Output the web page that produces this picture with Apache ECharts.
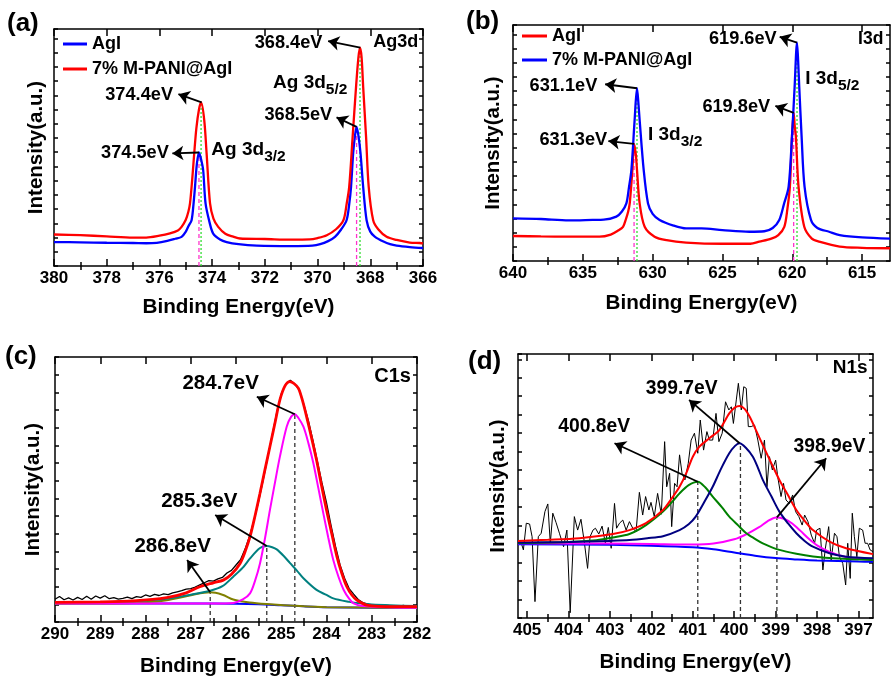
<!DOCTYPE html>
<html><head><meta charset="utf-8">
<script src="https://cdn.jsdelivr.net/npm/echarts@6/dist/echarts.min.js"></script>
<style>html,body{margin:0;padding:0;background:#fff}#c{width:892px;height:677px}</style>
</head><body><div id="c"></div>
<script>
// ---------------- DATA ----------------
// (a) Ag3d
const aAgI_x = [380,379,378,377,376.5,376.1,375.7,375.4,375.16,375.0,374.9,374.78,374.7,374.65,374.58,374.5,374.42,374.34,374.25,374.1,373.96,373.7,373.45,373.0,372.3,371,370.2,369.9,369.6,369.34,369.1,368.9,368.8,368.73,368.65,368.58,368.52,368.45,368.37,368.27,368.14,368.0,367.82,367.5,367.25,367,366.5,366];
const aAgI_y = [10.1,10.0,9.8,9.7,9.6,9.8,10.6,11.5,12.3,14.5,16.8,19.3,27,33.4,43,47.9,45,40.4,26.4,18.5,13.7,11.2,10.1,9.2,8.6,8.4,8.6,9.2,10.5,12.3,15.5,19.3,26,33.4,47.5,55,58.7,55,47.5,33.4,19.3,14.5,12.3,10.3,9.2,8.6,8.0,7.6];
const aM_x = [380,379,378,377,376.5,376,375.6,375.3,375.16,375.0,374.9,374.84,374.76,374.68,374.6,374.5,374.42,374.3,374.21,374.08,373.95,373.77,373.5,373.2,372.94,372,371,370.3,370.0,369.65,369.3,369.02,368.9,368.8,368.67,368.54,368.45,368.39,368.33,368.27,368.16,368.06,367.89,367.7,367.38,367,366.5,366.12,366];
const aM_y = [13.3,13.0,12.5,12.0,12.0,12.8,13.8,15.0,16.5,19.5,23,26.4,36,47.5,58,66,69,61.6,47.5,26.4,20,16.5,13.6,12.4,11.6,11.4,11.1,11.2,11.8,13,15.5,19.3,26,33.4,54.5,75.6,88,92.1,88,75.6,54.5,33.4,19.3,15.5,12.3,11,9.9,9.7,9.5];
const aPeakAgI = [[374.5,47.9],[368.52,58.7]];
const aPeakM = [[374.42,69],[368.39,92.1]];
const aTicks = [366,368,370,372,374,376,378,380];
const aMinor = [367,369,371,373,375,377,379];

// (b) I3d
const bAgI_x = [640,638,636,634.5,633.8,633,632.5,632.12,631.9,631.75,631.64,631.45,631.33,631.2,631.12,630.93,630.57,629.86,629,627.6,625,623,622.36,621.5,621,620.57,620.35,620.17,620.02,619.9,619.82,619.74,619.55,619.14,618.6,618.07,616.6,615,613];
const bAgI_y = [10.6,10.4,10.3,10.3,10.3,11.2,12.8,14.5,18,21,24.4,38.6,49.6,45,38.6,24.4,14.5,10.3,8.8,7.8,7.3,7.3,8.2,9.5,11,14.5,22,31.5,52.7,62.8,57,52.7,31.5,14.5,9.5,8.2,6.1,5.6,5.4];
const bM_x = [640,638,636,634.3,633.5,632.6,632.2,631.88,631.7,631.52,631.29,631.12,631.02,630.93,630.64,630.33,630.0,629.5,628.5,627.6,626.5,625,623.07,622,621.4,620.93,620.6,620.26,620.02,619.83,619.66,619.58,619.5,619.33,619.12,618.66,618.2,617.36,616.6,615,613];
const bM_y = [18.1,17.8,17.2,17.4,17.5,18.8,21,24.4,31,38.6,59.7,73.2,67,59.7,38.6,24.4,20,17.4,15,13.8,13.8,13.1,12.4,12.6,14,17.4,24,31.5,52.7,73.9,92.5,85,73.9,52.7,31.5,17.4,14,12.4,11,10,9.5];
const bPeakAgI = [[631.33,49.6],[619.9,62.8]];
const bPeakM = [[631.12,73.2],[619.66,92.5]];
const bTicks = [615,620,625,630,635,640];
const bMinor = [617.5,622.5,627.5,632.5,637.5];

// (c) C1s
const cRaw_x = [290.0,289.9,289.8,289.7,289.6,289.5,289.4,289.3,289.2,289.1,289.0,288.9,288.8,288.7,288.6,288.5,288.4,288.3,288.2,288.1,288.0,287.9,287.8,287.7,287.6,287.5,287.4,287.3,287.2,287.1,287.0,286.9,286.8,286.7,286.6,286.5,286.4,286.3,286.2,286.1,286.0,285.9,285.8,285.7,285.6,285.5,285.4,285.3,285.2,285.1,285.0,284.9,284.8,284.7,284.6,284.5,284.4,284.3,284.2,284.1,284.0,283.9,283.8,283.7,283.6,283.5,283.4,283.3,283.2,283.1,283.0,282.9,282.8,282.7,282.6,282.5,282.4,282.3,282.2,282.1,282.0];
const cRaw_y = [8.6,9.6,8.4,9.1,8.3,9.3,8.5,9.7,8.6,9.8,9.0,9.9,8.8,9.2,8.6,8.9,9.4,8.8,9.6,9.3,10.2,9.7,10.4,10.0,10.6,10.3,11.0,11.4,11.8,12.4,12.6,13.2,14.0,14.8,15.6,15.4,16.3,16.8,18.5,19.5,21.5,23.5,27.5,32.5,38.5,45.5,53.5,62,70.5,79,86,89.8,91.2,89.8,87.5,82,76,68.5,60.5,52.5,45,36.5,28.5,21.5,16.5,12.6,10.5,8.5,7.3,6.8,6.3,6.1,6.0,6.4,6.2,5.7,6.0,6.3,5.8,6.1,5.9];
const cBg_x = [290,287,286,285.5,285,284.5,284,283,282];
const cBg_y = [7.0,7.0,6.9,6.7,6.3,5.9,5.6,5.4,5.3];
const cP1_x = [290,286.5,286.06,285.85,285.69,285.58,285.47,285.36,285.25,285.14,285.03,284.88,284.78,284.70,284.62,284.51,284.40,284.29,284.18,284.07,283.96,283.85,283.73,283.62,283.5,283.4,283.2,282.5,282];
const cP1_y = [7.0,7.0,7.2,8.5,10.8,15.5,22.1,31.5,42.3,52.5,62.4,73.7,77.5,78.4,77,73.7,67.5,59.9,50.5,41,31.8,23.4,16.8,12.1,8.8,7.0,6.0,5.5,5.4];
const cP2_x = [290,289,288.3,287.53,287,286.57,286.3,286.06,285.85,285.69,285.47,285.32,285.2,285.1,284.95,284.81,284.65,284.51,284.22,284.0,283.85,283.5,283.33,283,282];
const cP2_y = [7.2,7.4,7.8,8.8,10.3,11.8,13.5,17.1,20.5,24,27.9,28.7,28.2,27.4,25,22.3,19.3,16.5,12.1,10.2,8.9,7.6,7.2,6.6,6.0];
const cP3_x = [290,289,288.27,287.8,287.53,287.2,286.9,286.57,286.3,286.06,285.7,285.32,284.59,284,282];
const cP3_y = [6.9,7.0,7.2,7.7,8.2,9.3,10.5,11.2,10.3,8.5,7.4,6.8,6.0,5.6,5.3];
const cEnv_x = [290,289,288.27,287.53,287.1,286.8,286.5,286.28,286.1,285.91,285.8,285.69,285.58,285.47,285.36,285.25,285.14,285.03,284.92,284.81,284.72,284.62,284.53,284.44,284.33,284.22,284.11,284.0,283.88,283.77,283.66,283.55,283.44,283.33,283.11,282.5,282];
const cEnv_y = [7.4,7.6,8.0,9.2,11.0,13.3,14.8,15.8,18,22.1,26.5,32.2,40,48.6,57.5,66.2,75,83.8,89,90.7,90,88.2,83.5,77.5,69.5,61.1,51.5,42.3,33,24.7,18.3,13.3,10.2,8.3,6.4,5.8,5.8];
const cPeaks = [[286.57,11.2],[285.32,28.7],[284.70,78.4]];
const cTicks = [282,283,284,285,286,287,288,289,290];
const cMinor = [282.5,283.5,284.5,285.5,286.5,287.5,288.5,289.5];

// (d) N1s
const dRaw_x = [405.14,405.09,405.02,404.94,404.88,404.81,404.73,404.66,404.57,404.50,404.44,404.38,404.30,404.22,404.12,404.04,403.96,403.86,403.78,403.70,403.62,403.54,403.48,403.41,403.35,403.27,403.19,403.11,403.04,402.97,402.89,402.84,402.77,402.69,402.61,402.53,402.45,402.37,402.29,402.21,402.14,402.06,402.01,401.93,401.85,401.76,401.68,401.63,401.56,401.51,401.44,401.38,401.32,401.26,401.19,401.11,401.04,400.96,400.88,400.82,400.74,400.66,400.60,400.52,400.44,400.37,400.29,400.21,400.13,400.07,400.02,399.95,399.90,399.83,399.77,399.71,399.66,399.59,399.51,399.43,399.35,399.27,399.21,399.15,399.08,399.00,398.95,398.87,398.81,398.75,398.67,398.59,398.52,398.44,398.36,398.30,398.22,398.14,398.06,398.01,397.93,397.86,397.80,397.72,397.66,397.58,397.52,397.46,397.38,397.31,397.26,397.20,397.15,397.10,397.04,396.98,396.90,396.84,396.78,396.72,396.65];
const dRaw_y = [28.3,25.8,35.9,35.6,30.8,6.2,30.8,32.1,40.3,43.2,28.3,39.7,36.1,32.1,27.0,33.3,2.0,38.4,33.3,37.4,28.9,18.8,30.8,33.3,34.0,31.8,34.8,28.3,34.3,26.4,43.4,34.0,35.9,37.1,33.3,36.5,34.0,32.7,47.6,39.0,46.0,40.9,43.8,38.4,47.2,39.3,66.8,49.7,54.8,34.6,51.0,49.7,61.8,54.8,52.3,58.6,67.4,70.0,62.4,75.0,63.6,70.6,67.4,67.4,77.5,66.8,70.0,81.9,78.8,80.0,73.7,82.6,88.9,78.8,87.6,87.0,72.5,72.5,73.1,67.4,60.5,67.4,49.7,61.1,56.1,59.8,53.5,46.0,51.0,44.7,43.4,46.6,40.3,38.4,35.2,39.0,36.5,31.4,28.3,33.3,34.0,18.2,26.4,34.6,22.0,32.1,30.8,23.2,20.7,12.5,28.3,15.0,39.7,30.8,23.2,34.0,33.3,28.3,28.3,25.8,25.1];
const dBg_x = [405.22,403,402,401,400.5,400,399.5,399,398.5,398,397,396.65];
const dBg_y = [27.9,27.7,27.4,26.8,26.0,24.8,23.6,22.7,22.2,21.8,21.4,21.3];
const dP1_x = [405.22,403,402,401,400.5,400,399.7,399.4,399.2,398.99,398.8,398.6,398.4,398.2,398,397.7,397.3,396.65];
const dP1_y = [28.3,28.2,28.0,27.8,28.2,29.8,31.8,34.4,36.6,38.1,37.6,35.8,33.0,30.0,27.5,25.0,23.1,22.0];
const dP2_x = [405.22,404,403.33,402.93,402.53,402.13,401.72,401.5,401.32,401.1,400.88,400.7,400.52,400.3,400.12,399.9,399.71,399.5,399.31,398.91,398.5,398.1,397.5,396.65];
const dP2_y = [28.4,28.8,29.5,30.5,31.8,35.2,40.3,44,47.2,50.3,51.6,49.5,46,42,38.4,35,32.1,30,28.3,25.8,24.3,23.3,22.5,22.0];
const dP3_x = [405.22,404,403,402.53,402.1,401.72,401.32,401.1,400.93,400.72,400.52,400.32,400.12,399.98,399.87,399.72,399.55,399.43,399.31,399.1,398.91,398.7,398.5,398.3,398.1,397.7,397.3,396.65];
const dP3_y = [28.6,28.8,29.2,29.5,30.2,31.0,33.3,35.5,38.4,44,49.7,56.5,62.4,65.2,66.2,64.5,61.1,57,52.3,46,40.3,35.8,32.1,29.2,27.0,24.5,23.2,22.6];
const dEnv_x = [405.22,404.5,403.74,402.93,402.53,402.13,401.72,401.5,401.32,401.16,401.0,400.84,400.6,400.36,400.12,399.98,399.87,399.75,399.63,399.47,399.31,399.1,398.91,398.7,398.5,398.3,398.1,397.7,397.3,396.65];
const dEnv_y = [29.2,29.6,30.2,31.8,33.3,35.9,40.9,45.5,49.7,54.8,61.1,64.9,68.1,71.2,77.5,79.8,80.3,79.2,76.3,71,65.5,58.5,52.3,46.5,40.9,36.8,33.3,28.9,26.4,24.2];
const dPeaks = [[400.88,51.6],[399.85,66.2],[398.97,38.1]];
const dTicks = [397,398,399,400,401,402,403,404,405];
const dMinor = [397.5,398.5,399.5,400.5,401.5,402.5,403.5,404.5];

// ---------------- ANNOTATIONS (data coordinates) ----------------
const aNotes = [
  {t:'{p|374.4eV}', x:376.77, y:72.1}, {t:'{p|374.5eV}', x:376.93, y:47.7},
  {t:'{p|368.4eV}', x:371.1, y:94.2}, {t:'{p|368.5eV}', x:370.73, y:63.7},
  {t:'{L|Ag3d}', x:367.03, y:94.6},
  {t:'{m|Ag 3d}{s|3/2}', x:372.62, y:47.8}, {t:'{m|Ag 3d}{s|5/2}', x:370.28, y:76.1}
];
const aArrows = [[374.4,69,375.28,72.5],[374.5,47.9,375.51,47.5],[368.38,92.1,369.6,94.9],[368.52,58.7,369.28,62.7]];
const bNotes = [
  {t:'{p|631.1eV}', x:636.39, y:74.2}, {t:'{p|631.3eV}', x:635.68, y:51.3},
  {t:'{p|619.6eV}', x:623.54, y:93.9}, {t:'{p|619.8eV}', x:624.01, y:65.4},
  {t:'{L|I3d}', x:614.38, y:94},
  {t:'{m|I 3d}{s|3/2}', x:628.39, y:52.3}, {t:'{m|I 3d}{s|5/2}', x:617.13, y:76}
];
const bArrows = [[631.12,73.2,633.4,74.9],[631.33,49.6,633.17,50.8],[619.66,92.5,620.9,95],[619.9,62.8,621.21,65.7]];
const cNotes = [
  {t:'{p|284.7eV}', x:286.34, y:90.1}, {t:'{p|285.3eV}', x:286.81, y:45.4},
  {t:'{p|286.8eV}', x:287.4, y:28.4}, {t:'{L|C1s}', x:282.54, y:92.6}
];
const cArrows = [[284.7,78.4,285.54,85.0],[285.32,28.7,286.46,40.4],[286.57,11.2,287.08,23.4]];
const dNotes = [
  {t:'{p|399.7eV}', x:401.27, y:87}, {t:'{p|400.8eV}', x:403.38, y:72.5},
  {t:'{p|398.9eV}', x:397.7, y:64.9}, {t:'{L|N1s}', x:397.2, y:94.8}
];
const dArrows = [[399.87,66.2,401.09,82.6],[400.88,51.6,402.89,66.2],[398.97,38.1,397.78,60.5]];

// ---------------- BUILD ----------------
const F = "'Liberation Sans', Arial, Helvetica, sans-serif";
const zip = (xs, ys) => xs.slice(0, Math.min(xs.length, ys.length)).map((x, i) => [x, ys[i]]);
const AX = {color:'#000', width:1.5};

const panels = [
  {grid:{left:54, top:29, width:369, height:237}, min:366, max:380, major:aTicks, minor:aMinor, yInt:6, xGap:31, yGap:7, lab:18.2, big:18},
  {grid:{left:513, top:25, width:377, height:236}, min:613, max:640, major:bTicks, minor:bMinor, yInt:6, xGap:32, yGap:9, lab:18.2, big:17.5},
  {grid:{left:55, top:357, width:362, height:265}, min:282, max:290, major:cTicks, minor:cMinor, yInt:100/15, xGap:34, yGap:11, lab:20.5, big:20},
  {grid:{left:518, top:354, width:355, height:264}, min:396.65, max:405.22, major:dTicks, minor:dMinor, yInt:7, xGap:34, yGap:9, lab:19.3, big:19}
];

const grids = [], xAxes = [], yAxes = [], series = [];
panels.forEach((p, i) => {
  grids.push(Object.assign({outerBoundsMode:'none', containLabel:false}, p.grid));
  const base = {type:'value', gridIndex:i, min:p.min, max:p.max, inverse:true, splitLine:{show:false}, minorTick:{show:false}};
  xAxes.push(Object.assign({}, base, {
    position:'bottom',
    axisLine:{show:true, onZero:false, lineStyle:AX},
    axisTick:{show:true, inside:true, length:7, customValues:p.major, lineStyle:AX},
    axisLabel:{show:true, customValues:p.major, margin:4, color:'#000', fontSize:17, fontWeight:'bold', fontFamily:F},
    name:'Binding Energy(eV)', nameLocation:'middle', nameGap:p.xGap,
    nameTextStyle:{color:'#000', fontSize:20.7, fontWeight:'bold', fontFamily:F}
  }));
  xAxes.push(Object.assign({}, base, {
    position:'top', axisLine:{show:true, onZero:false, lineStyle:AX},
    axisTick:{show:true, inside:true, length:7, customValues:p.major, lineStyle:AX}, axisLabel:{show:false}
  }));
  xAxes.push(Object.assign({}, base, {
    position:'top', axisLine:{show:false},
    axisTick:{show:true, inside:true, length:4, customValues:p.minor, lineStyle:AX}, axisLabel:{show:false}
  }));
  xAxes.push(Object.assign({}, base, {
    position:'bottom', axisLine:{show:false},
    axisTick:{show:true, inside:true, length:4, customValues:p.minor, lineStyle:AX}, axisLabel:{show:false}
  }));
  const ybase = {type:'value', gridIndex:i, min:0, max:100, interval:p.yInt, splitLine:{show:false},
    axisLine:{show:true, onZero:false, lineStyle:AX}, axisTick:{show:true, inside:true, length:4, lineStyle:AX}, axisLabel:{show:false}};
  yAxes.push(Object.assign({}, ybase, {position:'left', name:'Intensity(a.u.)', nameLocation:'middle', nameGap:p.yGap,
    nameTextStyle:{color:'#000', fontSize:20.5, fontWeight:'bold', fontFamily:F}}));
  yAxes.push(Object.assign({}, ybase, {position:'right'}));
});

function line(p, name, xs, ys, color, width, smooth, z) {
  return {type:'line', name:name, xAxisIndex:4*p, yAxisIndex:2*p, data:zip(xs, ys), showSymbol:false, symbol:'none',
    smooth:smooth, lineStyle:{color:color, width:width}, itemStyle:{color:color}, z:z || 2, silent:true, animation:false, clip:true};
}
function dash(p, pts, color, type, width) {
  return pts.map(pt => ({type:'line', xAxisIndex:4*p, yAxisIndex:2*p, data:[[pt[0],0],[pt[0],pt[1]]], showSymbol:false, symbol:'none',
    lineStyle:{color:color, width:width, type:type}, z:1, silent:true, animation:false}));
}
function richFor(p) {
  return {
    p:{fontSize:panels[p].lab, fontWeight:'bold', fontFamily:F, color:'#000', opacity:1},
    m:{fontSize:19, fontWeight:'bold', fontFamily:F, color:'#000', verticalAlign:'bottom', padding:[0,0,6,0]},
    s:{fontSize:15.5, fontWeight:'bold', fontFamily:F, color:'#000', verticalAlign:'bottom'},
    L:{fontSize:panels[p].big, fontWeight:'bold', fontFamily:F, color:'#000', opacity:1}
  };
}
function notes(p, list, arrows) {
  return {type:'scatter', xAxisIndex:4*p, yAxisIndex:2*p, symbolSize:0, silent:true, animation:false, z:10,
    itemStyle:{opacity:1, color:'#000'},
    data:list.map(n => ({value:[n.x, n.y], label:{formatter:n.t}})),
    label:{show:true, position:'inside', color:'#000', opacity:1, textBorderWidth:0, fontWeight:'bold', fontFamily:F, rich:richFor(p)},
    markLine:{silent:true, animation:false, symbol:['none','arrow'], symbolSize:11, label:{show:false},
      lineStyle:{color:'#000', width:1.8, type:'solid', opacity:1}, emphasis:{disabled:true},
      data:arrows.map(a => [{coord:[a[0],a[1]]},{coord:[a[2],a[3]]}])}};
}

// (a)
series.push(...dash(0, aPeakAgI, '#ff33cc', [4,3], 1.3), ...dash(0, aPeakM, '#33dd33', [2,2], 1.3));
series.push(line(0, 'AgI', aAgI_x, aAgI_y, '#0000ff', 2.3, 0.3, 3));
series.push(line(0, '7% M-PANI@AgI', aM_x, aM_y, '#ff0000', 2.3, 0.3, 3));
series.push(notes(0, aNotes, aArrows));
// (b)
series.push(...dash(1, bPeakAgI, '#ff33cc', [4,3], 1.3), ...dash(1, bPeakM, '#33dd33', [2,2], 1.3));
series.push(line(1, 'AgI ', bAgI_x, bAgI_y, '#ff0000', 2.3, 0.3, 3));
series.push(line(1, '7% M-PANI@AgI ', bM_x, bM_y, '#0000ff', 2.3, 0.3, 3));
series.push(notes(1, bNotes, bArrows));
// (c)
series.push(...dash(2, cPeaks, '#333', [4,3], 1.3));
series.push(line(2, 'c raw', cRaw_x, cRaw_y, '#000000', 1.3, false, 2));
series.push(line(2, 'c bg', cBg_x, cBg_y, '#0000ff', 2, 0.3, 3));
series.push(line(2, 'c 286.8', cP3_x, cP3_y, '#808000', 2, 0.3, 3));
series.push(line(2, 'c 285.3', cP2_x, cP2_y, '#008080', 2, 0.3, 3));
series.push(line(2, 'c 284.7', cP1_x, cP1_y, '#ff00ff', 2, 0.3, 3));
series.push(line(2, 'c env', cEnv_x, cEnv_y, '#ff0000', 2.8, 0.3, 4));
series.push(notes(2, cNotes, cArrows));
// (d)
series.push(...dash(3, dPeaks, '#333', [4,3], 1.3));
series.push(line(3, 'd raw', dRaw_x, dRaw_y, '#000000', 1, false, 2));
series.push(line(3, 'd bg', dBg_x, dBg_y, '#0000ff', 2, 0.3, 3));
series.push(line(3, 'd 398.9', dP1_x, dP1_y, '#ff00ff', 2, 0.3, 3));
series.push(line(3, 'd 400.8', dP2_x, dP2_y, '#008000', 2, 0.3, 3));
series.push(line(3, 'd 399.7', dP3_x, dP3_y, '#000080', 2, 0.3, 3));
series.push(line(3, 'd env', dEnv_x, dEnv_y, '#ff0000', 2, 0.3, 4));
series.push(notes(3, dNotes, dArrows));

const legendText = {color:'#000', fontSize:18, fontWeight:'bold', fontFamily:F};
const titleText = {color:'#000', fontSize:26, fontWeight:'bold', fontFamily:F};
const option = {
  backgroundColor:'#fff',
  animation:false,
  title:[
    {text:'(a)', left:7, top:11, padding:0, textStyle:titleText},
    {text:'(b)', left:466, top:9, padding:0, textStyle:titleText},
    {text:'(c)', left:5, top:344, padding:0, textStyle:titleText},
    {text:'(d)', left:468, top:349, padding:0, textStyle:titleText}
  ],
  legend:[
    {data:['AgI','7% M-PANI@AgI'], left:63, top:35, orient:'vertical', icon:'rect', itemWidth:24, itemHeight:3, itemGap:7, padding:0, textStyle:legendText, selectedMode:false},
    {data:['AgI ','7% M-PANI@AgI '], left:522, top:27, orient:'vertical', icon:'rect', itemWidth:25, itemHeight:3, itemGap:6, padding:0, textStyle:legendText, selectedMode:false}
  ],
  grid:grids, xAxis:xAxes, yAxis:yAxes, series:series
};
const chart = echarts.init(document.getElementById('c'), null, {renderer:'canvas'});
chart.setOption(option);
</script></body></html>
